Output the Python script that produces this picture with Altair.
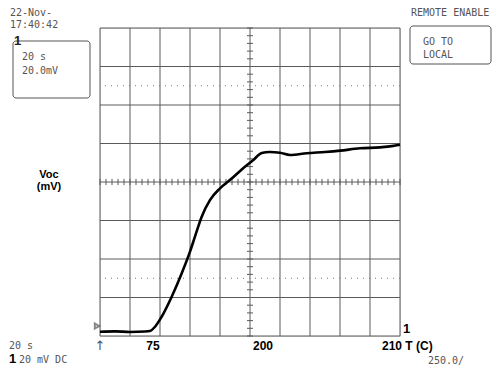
import altair as alt
import pandas as pd

# Trace values (time in s, Voc in mV; 20 s/div, 20 mV/div)
time_s = [0, 10, 20, 30, 33.3, 36.7, 41.1, 47.8, 54.5, 60, 63.3, 67.8, 73.3, 80, 87.8,
          94.5, 102.2, 107.8, 113, 120, 126.7, 137.8, 150, 160, 173.3, 186.7, 198.9, 200]
voc_mv = [-77.8, -77.6, -77.9, -77.7, -77.4, -75.2, -70.0, -59.6, -47.4, -36.2, -28.4, -18.0,
          -9.4, -3.3, 1.8, 6.5, 11.4, 15.1, 15.6, 15.2, 14.0, 14.9, 15.6, 16.3, 17.5, 18.0, 19.2, 19.4]

grid_t = [0, 20, 40, 60, 80, 100, 120, 140, 160, 180, 200]
grid_v = [-80, -60, -40, -20, 0, 20, 40, 60, 80]
minor_t = [4 * i for i in range(51)]
minor_v = [-80 + 4 * i for i in range(41)]
dotted_v = [-50, 50]

GRID = "#5a5a5a"
TXT = "#555555"
MONO = "DejaVu Sans Mono"
SANS = "Liberation Sans"

xs = alt.Scale(domain=[0, 200], nice=False, zero=False)
ys = alt.Scale(domain=[-80, 80], nice=False, zero=False)


def X(f):
    return alt.X(f, scale=xs, axis=None)


def Y(f):
    return alt.Y(f, scale=ys, axis=None)


trace_df = pd.DataFrame({"t": time_s, "v": voc_mv})

vgrid = alt.Chart(pd.DataFrame({"t": grid_t})).mark_rule(color=GRID, strokeWidth=1).encode(x=X("t:Q"))
hgrid = alt.Chart(pd.DataFrame({"v": grid_v})).mark_rule(color=GRID, strokeWidth=1).encode(y=Y("v:Q"))

dotted = alt.Chart(pd.DataFrame({"v": dotted_v})).mark_rule(
    color="#777777", strokeDash=[1, 5], strokeWidth=1).encode(y=Y("v:Q"))

ht_df = pd.DataFrame({"t": minor_t})
ht_df["lo"] = -1.6
ht_df["hi"] = 1.6
hticks = alt.Chart(ht_df).mark_rule(color=GRID, strokeWidth=1).encode(
    x=X("t:Q"), y=Y("lo:Q"), y2="hi:Q")

vt_df = pd.DataFrame({"v": minor_v})
vt_df["lo"] = 98
vt_df["hi"] = 102
vticks = alt.Chart(vt_df).mark_rule(color=GRID, strokeWidth=1).encode(
    y=Y("v:Q"), x=X("lo:Q"), x2="hi:Q")

trace = alt.Chart(trace_df).mark_line(color="black", strokeWidth=2.6, interpolate="monotone").encode(
    x=X("t:Q"), y=Y("v:Q"))

one = pd.DataFrame({"a": [0]})


def txt(s, x, y, size=10, font=MONO, weight="normal", color=TXT, align="left"):
    return alt.Chart(one).mark_text(text=s, font=font, fontSize=size, fontWeight=weight,
                                    color=color, align=align, baseline="alphabetic").encode(
        x=alt.value(x), y=alt.value(y))


def box(x1, x2, y1, y2):
    return alt.Chart(one).mark_rect(filled=False, stroke=TXT, strokeWidth=1, cornerRadius=3).encode(
        x=alt.value(x1), x2=alt.value(x2), y=alt.value(y1), y2=alt.value(y2))


layers = [
    vgrid, hgrid, dotted, hticks, vticks, trace,
    txt("22-Nov-", -90, -12),
    txt("17:40:42", -90, 0),
    box(-87, -10, 13, 70),
    txt("1", -86, 17, size=13, font=SANS, weight="bold", color="#222222"),
    txt("20 s", -78, 32),
    txt("20.0mV", -78, 46),
    txt("REMOTE ENABLE", 311, -12),
    box(310, 391, -2, 36),
    txt("GO TO", 323, 17),
    txt("LOCAL", 323, 30),
    txt("Voc", -51, 150, size=11, font=SANS, weight="bold", color="black", align="center"),
    txt("(mV)", -51, 162, size=11, font=SANS, weight="bold", color="black", align="center"),
    txt("20  s", -91, 321),
    txt("1", -91, 335, size=13, font=SANS, weight="bold", color="black"),
    txt("20 mV  DC", -81, 335),
    txt("75", 53, 322, size=12, font=SANS, weight="bold", color="black", align="center"),
    txt("200", 163, 322, size=12, font=SANS, weight="bold", color="black", align="center"),
    txt("210 T (C)", 282, 322, size=12, font=SANS, weight="bold", color="black"),
    txt("1", 303, 305, size=13, font=SANS, weight="bold", color="black"),
    txt("250.0/", 328, 336),
    txt("\u2191", 0, 322, size=13, font="DejaVu Sans", color=TXT, align="center"),
    alt.Chart(one).mark_point(shape="triangle-right", filled=False, size=25, color=TXT).encode(
        x=alt.value(-3), y=alt.value(298)),
]

chart = alt.layer(*layers).properties(
    width=300, height=308,
    autosize=alt.AutoSizeParams(type="none"),
    padding={"left": 92, "top": 20, "right": 92, "bottom": 31},
).configure_view(stroke=GRID, strokeWidth=1).configure(background="white")

chart.save("out.html", embed_options={"renderer": "svg", "actions": False})
